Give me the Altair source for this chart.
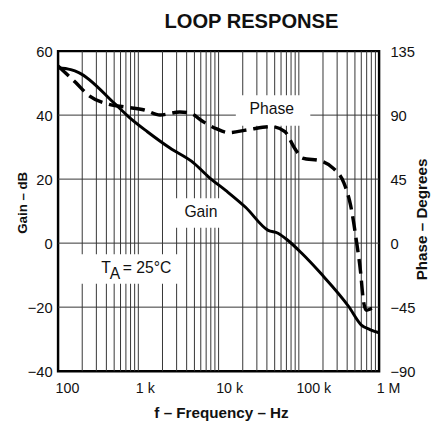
import altair as alt
import pandas as pd

# ---- data ----
gain_freq = [100, 144, 181, 512, 804, 1297, 2480, 4874, 7655, 12360, 21700, 41500,
             54950, 72800, 108000, 190000, 418000, 602000, 769000, 1000000]
gain_db = [54.8, 54.2, 53.3, 43.5, 38.9, 34.8, 29.7, 25.1, 20.5, 16.4, 11.2, 4.0,
           3.1, 0.9, -3.1, -9.6, -19.8, -25.6, -27.0, -28.0]

phase_freq = [100, 166, 239, 421, 679, 1191, 1871, 3288, 4357, 6457, 9310, 13430,
              23600, 46400, 67000, 88700, 111000, 190000, 274000, 363000, 441000,
              523000, 586000, 637000, 693000, 845000, 1000000]
phase_deg = [124.6, 112.9, 104.0, 97.7, 95.7, 93.6, 90.1, 92.2, 91.5, 85.3, 80.5, 77.7,
             79.8, 81.9, 78.4, 66.7, 59.8, 57.7, 52.2, 42.5, 26.7,
             1.1, -19.6, -40.3, -47.2, -45.8, -45.8]

x_tick_vals = [100, 1000, 10000, 100000, 1000000]
x_tick_labels = ["100", "1 k", "10 k", "100 k", "1 M"]
gain_ticks = [-40, -20, 0, 20, 40, 60]
phase_ticks = [-90, -45, 0, 45, 90, 135]

grid_freqs = [m * d for d in [100, 1000, 10000, 100000] for m in range(1, 10)][1:]
grid_gains = [-20, 0, 20, 40]

# label boxes (white, hide the grid behind the labels), in data units
box_f1 = [16400, 2620, 109]
box_f2 = [139000, 12360, 3380]
box_g1 = [36.7, 4.8, -12.7]
box_g2 = [46.2, 14.0, -3.5]

ann_text = ["Phase", "Gain", "T", "A", "= 25°C"]
ann_freq = [46000, 6030, 345, 439, 641]
ann_gain = [40.5, 8.25, -9.33, -11.2, -9.33]
ann_align = ["center", "center", "left", "left", "left"]

chart_title = ["LOOP RESPONSE"]

FONT = "Liberation Sans"
xdom = [100, 1000000]
gdom = [-40, 60]
pdom = [-90, 135]

gain_df = pd.DataFrame({"f": gain_freq, "g": gain_db})
phase_df = pd.DataFrame({"f": phase_freq, "p": phase_deg})
vgrid_df = pd.DataFrame({"f": grid_freqs})
hgrid_df = pd.DataFrame({"g": grid_gains})
box_df = pd.DataFrame({"f": box_f1, "f2": box_f2, "g": box_g1, "g2": box_g2})
ann_df = pd.DataFrame({"t": ann_text, "f": ann_freq, "g": ann_gain, "a": ann_align})
title_df = pd.DataFrame({"t": chart_title})

xscale = alt.Scale(type="log", domain=xdom, nice=False)
gscale = alt.Scale(domain=gdom, nice=False, zero=False)
pscale = alt.Scale(domain=pdom, nice=False, zero=False)

label_expr = " : ".join(
    f"datum.value == {v} ? '{l}'" for v, l in zip(x_tick_vals, x_tick_labels)
) + " : ''"

x_axis = alt.Axis(
    values=x_tick_vals, labelExpr=label_expr, grid=False, ticks=False, tickSize=0,
    domain=False, labelFont=FONT, labelFontSize=14.5, labelColor="#111",
    labelAlign="left", labelOffset=-3, labelBaseline="alphabetic", labelPadding=22,
    title="f – Frequency – Hz", titleFont=FONT, titleFontSize=15.5,
    titleFontWeight="bold", titleColor="#111", titleBaseline="alphabetic",
    titleY=47.7, titleX=166,
)
g_axis = alt.Axis(
    values=gain_ticks, grid=False, ticks=False, tickSize=0, domain=False,
    labelFont=FONT, labelFontSize=15, labelColor="#111", labelPadding=6,
    title="Gain – dB", titleFont=FONT, titleFontSize=13.5, titleFontWeight="bold",
    titleColor="#111", titleBaseline="alphabetic", titleX=-32, titleY=154,
    titleAngle=270,
)
p_axis = alt.Axis(
    orient="right", values=phase_ticks, grid=False, ticks=False, tickSize=0,
    domain=False, labelFont=FONT, labelFontSize=15, labelColor="#111",
    labelPadding=11,
    title="Phase – Degrees", titleFont=FONT, titleFontSize=15.5,
    titleFontWeight="bold", titleColor="#111", titleBaseline="alphabetic",
    titleAngle=270, titleX=48, titleY=171,
)

X = alt.X("f:Q", scale=xscale, axis=x_axis)
Y = alt.Y("g:Q", scale=gscale, axis=g_axis)

vgrid = alt.Chart(vgrid_df).mark_rule(color="#333", strokeWidth=1).encode(x=X)
hgrid = alt.Chart(hgrid_df).mark_rule(color="#333", strokeWidth=1).encode(y=Y)
boxes = alt.Chart(box_df).mark_rect(color="white").encode(
    x=X, x2="f2:Q", y=Y, y2="g2:Q",
)
gain_line = alt.Chart(gain_df).mark_line(
    color="black", strokeWidth=3, interpolate="monotone"
).encode(x=X, y=Y)


def ann_layer(align):
    return alt.Chart(ann_df).transform_filter(
        alt.datum.a == align
    ).mark_text(
        font=FONT, fontSize=16, color="#111", baseline="alphabetic", align=align
    ).encode(x=X, y=Y, text="t:N")


title_mark = alt.Chart(title_df).mark_text(
    font=FONT, fontSize=20.5, fontWeight="bold", color="#111",
    baseline="alphabetic", align="center",
).encode(x=alt.value(197), y=alt.value(-24), text="t:N")

inner = alt.layer(vgrid, hgrid, boxes, gain_line,
                  ann_layer("center"), ann_layer("left"), title_mark)

phase_line = alt.Chart(phase_df).mark_line(
    color="black", strokeWidth=3.5, strokeDash=[15, 7], interpolate="monotone"
).encode(
    x=X,
    y=alt.Y("p:Q", scale=pscale, axis=p_axis),
)

chart = alt.layer(inner, phase_line).resolve_scale(y="independent").properties(
    width=327, height=326,
    autosize=alt.AutoSizeParams(type="none"),
    padding={"left": 51, "top": 40, "right": 60, "bottom": 54},
).configure_view(stroke="black", strokeWidth=2.5)

chart.save("out.html", embed_options={"renderer": "svg", "actions": False})
